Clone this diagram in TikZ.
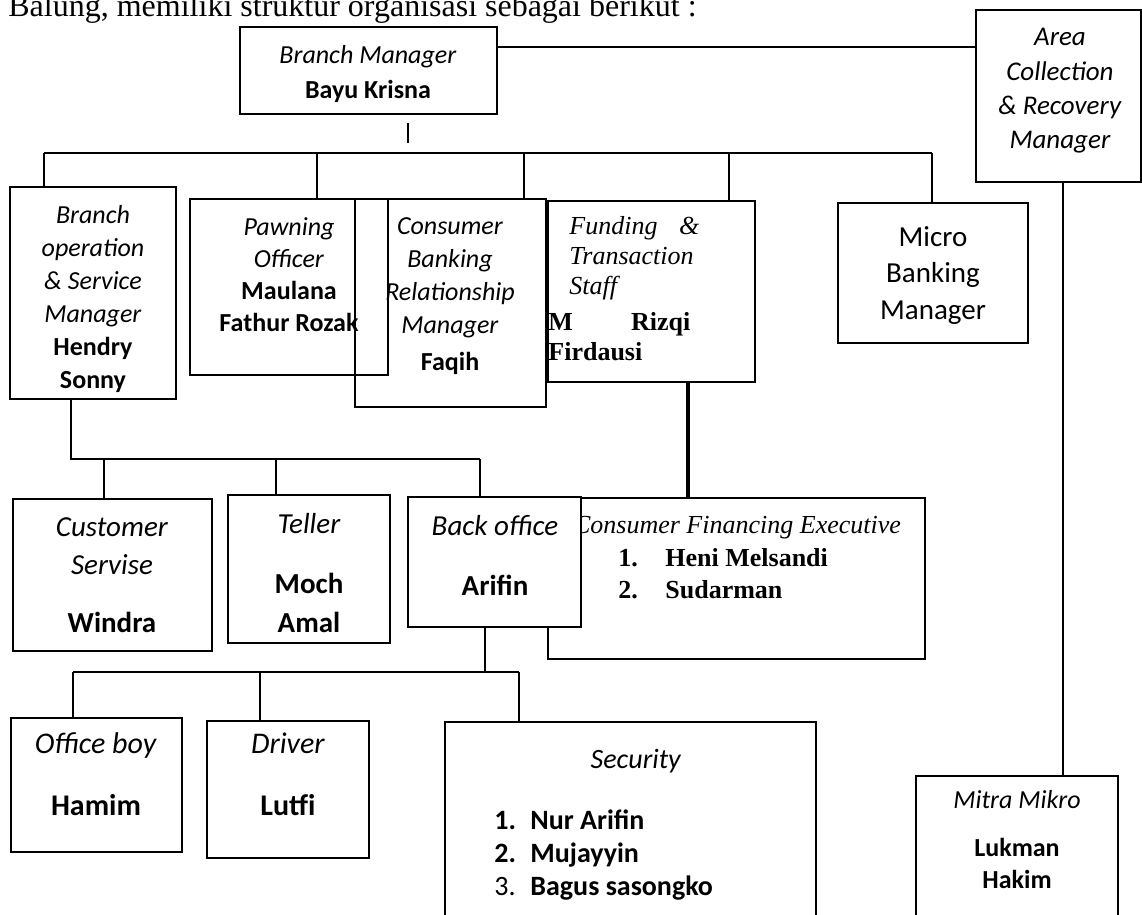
\documentclass[tikz,border=0pt]{standalone}
\usepackage{fontspec}
\setmainfont{Liberation Serif}
\newfontfamily\calibri{Carlito}
\usetikzlibrary{fit, positioning}

\tikzset{
  % --- kotak jabatan ---------------------------------------
  jbox/.style={draw, line width=1.2pt, inner sep=0pt, fill=none},
  jboxw/.style={jbox, fill=white},
  % --- teks di dalam kotak ---------------------------------
  jtxt/.style={inner sep=0pt, anchor=north, align=center,
    font=\calibri\fontsize{13}{16.5}\selectfont},
  jlist/.style={inner sep=0pt, anchor=north west, align=left,
    font=\calibri\fontsize{14}{16.5}\selectfont},
  jser/.style={inner sep=0pt, anchor=north west, align=left,
    font=\fontsize{13}{15}\selectfont},
  % --- garis penghubung ------------------------------------
  ln/.style={line width=0.6pt},
  lnt/.style={line width=2pt}
}

\begin{document}
\begin{tikzpicture}[x=0.5pt, y=-0.5pt]

  \fill[white] (0,0) rectangle (1142,915);
  \useasboundingbox (0,0) rectangle (1142,915);
  \clip (0,0) rectangle (1142,915);

  % ---------- kalimat pembuka ----------
  \node[anchor=base west, inner sep=0pt, font=\fontsize{16}{19}\selectfont]
    (judul) at (8,17) {Balung, memiliki struktur organisasi sebagai berikut :};

  % ---------- pimpinan cabang ----------
  \node[jbox, fit={(240,27)(497,114)}] (bm) {};
  \node[jtxt, font=\calibri\fontsize{13}{17.5}\selectfont] (bmt) at (368,45)
    {\textit{Branch Manager}\\\textbf{Bayu Krisna}};

  \node[jbox, fit={(976,10)(1141,182)}] (acr) {};
  \node[jtxt, font=\calibri\fontsize{13.5}{17.2}\selectfont] (acrt) at (1060,28)
    {\textit{Area}\\\textit{Collection}\\\textit{\& Recovery}\\\textit{Manager}};

  % ---------- baris kedua ----------
  \node[jbox, fit={(10,187)(176,399)}] (bos) {};
  \node[jtxt] (bost) at (93,205)
    {\textit{Branch}\\\textit{operation}\\\textit{\& Service}\\\textit{Manager}\\
     \textbf{Hendry}\\\textbf{Sonny}};

  \node[jbox, fit={(190,199)(388,375)}] (pwn) {};
  \node[jtxt, font=\calibri\fontsize{13}{16}\selectfont] (pwnt) at (289,217)
    {\textit{Pawning}\\\textit{Officer}\\\textbf{Maulana}\\\textbf{Fathur Rozak}};

  \node[jbox, fit={(355,199)(546,407)}] (cbr) {};
  \node[jtxt] (cbrt) at (450,217)
    {\textit{Consumer}\\\textit{Banking}\\\textit{Relationship}\\\textit{Manager}\\[2pt]
     \textbf{Faqih}};

  \node[jbox, fit={(548,201)(755,382)}] (fts) {};
  \node[jser] (ftst) at (548,216)
    {\hspace*{10.5pt}\textit{\hbox to 65pt{Funding\hfill\&}}\\
     \hspace*{10.5pt}\textit{Transaction}\\
     \hspace*{10.5pt}\textit{Staff}\\[3pt]
     \hbox to 71pt{\textbf{M}\hfill\textbf{Rizqi}}\\
     \textbf{Firdausi}};

  \node[jbox, fit={(838,203)(1028,343)}] (mbm) {};
  \node[jtxt, font=\calibri\fontsize{14.5}{18.3}\selectfont] (mbmt) at (933,226)
    {Micro\\Banking\\Manager};

  % ---------- baris ketiga ----------
  \node[jbox, fit={(13,499)(212,651)}] (cs) {};
  \node[jtxt, font=\calibri\fontsize{14.5}{19}\selectfont] (cst) at (112,517)
    {\textit{Customer}\\\textit{Servise}\\[10pt]\textbf{Windra}};

  \node[jbox, fit={(228,495)(390,643)}] (tlr) {};
  \node[jtxt, font=\calibri\fontsize{14.5}{19.5}\selectfont] (tlrt) at (309,513)
    {\textit{Teller}\\[10.5pt]\textbf{Moch}\\\textbf{Amal}};

  \node[jbox, fit={(548,498)(925,659)}] (cfe) {};
  \node[inner sep=0pt, anchor=north, font=\fontsize{13}{15}\selectfont]
    (cfet) at (737,516) {\textit{Consumer Financing Executive}};
  \node[jser, font=\fontsize{13}{16}\selectfont] (cfel) at (618,548)
    {\makebox[23.5pt][l]{\textbf{1.}}\textbf{Heni Melsandi}\\
     \makebox[23.5pt][l]{\textbf{2.}}\textbf{Sudarman}};

  \node[jboxw, fit={(408,497)(581,627)}] (bo) {};
  \node[jtxt, font=\calibri\fontsize{14.5}{30}\selectfont] (bot) at (495,515)
    {\textit{Back office}\\\textbf{Arifin}};

  % ---------- baris keempat ----------
  \node[jbox, fit={(11,718)(182,852)}] (ob) {};
  \node[jtxt, font=\calibri\fontsize{15}{31}\selectfont] (obt) at (96,732)
    {\textit{Office boy}\\\textbf{Hamim}};

  \node[jbox, fit={(207,721)(369,858)}] (drv) {};
  \node[jtxt, font=\calibri\fontsize{15}{31}\selectfont] (drvt) at (288,732)
    {\textit{Driver}\\\textbf{Lutfi}};

  \node[jbox, fit={(445,722)(816,940)}] (sec) {};
  \node[jtxt, font=\calibri\fontsize{14}{16.5}\selectfont] (sect) at (636,749)
    {\textit{Security}};
  \node[jlist] (secl) at (494,809)
    {\makebox[18pt][l]{\textbf{1.}}\textbf{Nur Arifin}\\
     \makebox[18pt][l]{\textbf{2.}}\textbf{Mujayyin}\\
     \makebox[18pt][l]{3.}\textbf{Bagus sasongko}};

  \node[jbox, fit={(916,776)(1118,940)}] (mtr) {};
  \node[jtxt, font=\calibri\fontsize{13}{16}\selectfont] (mtrt) at (1017,790)
    {\textit{Mitra Mikro}\\[8pt]\textbf{Lukman}\\\textbf{Hakim}};

  % ---------- garis penghubung ----------
  \draw[ln] (bm.east |- 0,47) -- (acr.west |- 0,47);
  \draw[ln] (acr.south -| 1063,0) -- (mtr.north -| 1063,0);

  \coordinate (bmstub) at (408,123);
  \draw[ln] (bmstub) -- ++(0,20);

  \coordinate (bus1w) at (44,153);
  \coordinate (bus1e) at (932,153);
  \draw[ln] (bus1w) -- (bus1e);
  \foreach \x/\n in {44/bos, 317/pwn, 524/cbr, 729/fts, 932/mbm}
    \draw[ln] (\x,153) -- (\n.north -| \x,0);

  \draw[lnt] (fts.south -| 688,0) -- (cfe.north -| 688,0);

  \coordinate (bus2w) at (71,459);
  \coordinate (bus2e) at (480,459);
  \draw[ln] (bos.south -| bus2w) -- (bus2w) -- (bus2e);
  \foreach \x/\n in {104/cs, 276/tlr, 480/bo}
    \draw[ln] (\x,459) -- (\n.north -| \x,0);

  \coordinate (bus3w) at (73,672);
  \coordinate (bus3e) at (519,672);
  \draw[ln] (bo.south -| 485,0) -- (485,672);
  \draw[ln] (bus3w) -- (bus3e);
  \foreach \x/\n in {73/ob, 260/drv, 519/sec}
    \draw[ln] (\x,672) -- (\n.north -| \x,0);

\end{tikzpicture}
\end{document}
